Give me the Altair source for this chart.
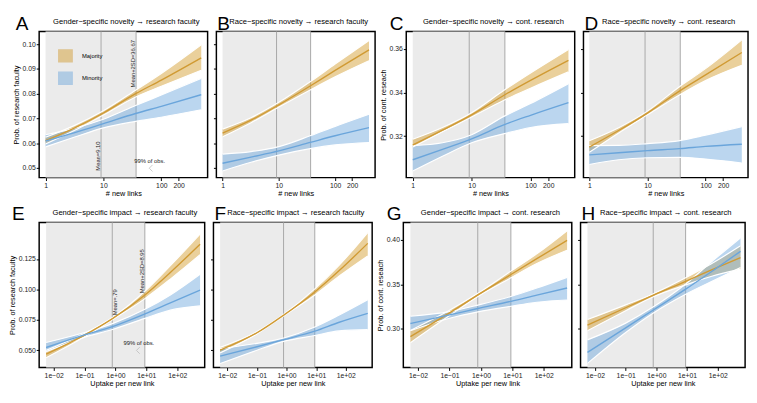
import altair as alt
import pandas as pd

FONT = "Liberation Sans"
GOLD = "#D39B2A"
BLUE = "#6FA8DC"
GOLD_LINE = "#D09A33"
BLUE_LINE = "#6AA5DB"
GROUPS = ["Majority", "Minority"]

# ---------------- Row 1: "# new links" ----------------
ROW1_MEAN, ROW1_SD2 = 9.10, 36.67
ROW1_TICKS = [1, 10, 100, 200]

A_x = [1, 3.2, 10, 36, 100, 490]
A_maj = [0.0610, 0.0662, 0.0722, 0.0800, 0.0855, 0.0945]
A_maj_lo = [0.0597, 0.0652, 0.0714, 0.0787, 0.0830, 0.0895]
A_maj_hi = [0.0624, 0.0672, 0.0731, 0.0814, 0.0882, 0.0998]
A_min = [0.0609, 0.0643, 0.0679, 0.0720, 0.0749, 0.0796]
A_min_lo = [0.0585, 0.0625, 0.0662, 0.0688, 0.0705, 0.0735]
A_min_hi = [0.0634, 0.0661, 0.0697, 0.0752, 0.0795, 0.0862]

B_x = [1, 3.2, 10, 36, 100, 400]
B_maj = [0.0641, 0.0693, 0.0755, 0.0831, 0.0894, 0.0977]
B_maj_lo = [0.0626, 0.0683, 0.0746, 0.0815, 0.0868, 0.0933]
B_maj_hi = [0.0657, 0.0703, 0.0765, 0.0848, 0.0920, 0.1015]
B_min = [0.0519, 0.0544, 0.0569, 0.0603, 0.0630, 0.0663]
B_min_lo = [0.0488, 0.0523, 0.0552, 0.0578, 0.0593, 0.0603]
B_min_hi = [0.0556, 0.0566, 0.0586, 0.0630, 0.0668, 0.0717]

C_x = [1, 3.2, 10, 36, 100, 440]
C_maj = [0.3160, 0.3228, 0.3298, 0.3389, 0.3456, 0.3548]
C_maj_lo = [0.3150, 0.3220, 0.3288, 0.3366, 0.3420, 0.3495]
C_maj_hi = [0.3186, 0.3240, 0.3308, 0.3412, 0.3490, 0.3598]
C_min = [0.3092, 0.3140, 0.3188, 0.3253, 0.3296, 0.3354]
C_min_lo = [0.3040, 0.3108, 0.3170, 0.3212, 0.3240, 0.3258]
C_min_hi = [0.3157, 0.3170, 0.3207, 0.3292, 0.3350, 0.3441]

D_x = [1, 3.2, 10, 36, 100, 420]
D_maj = [0.3150, 0.3226, 0.3306, 0.3408, 0.3481, 0.3584]
D_maj_lo = [0.3126, 0.3215, 0.3298, 0.3390, 0.3455, 0.3525]
D_maj_hi = [0.3179, 0.3239, 0.3315, 0.3428, 0.3510, 0.3642]
D_min = [0.3114, 0.3124, 0.3134, 0.3143, 0.3153, 0.3163]
D_min_lo = [0.3070, 0.3092, 0.3101, 0.3103, 0.3095, 0.3077]
D_min_hi = [0.3157, 0.3158, 0.3166, 0.3180, 0.3205, 0.3244]

# ---------------- Row 2: "Uptake per new link" ----------------
ROW2_MEAN, ROW2_SD2 = 0.79, 8.95
ROW2_TICKS = [0.01, 0.1, 1, 10, 100]
ROW2_X = [0.0057, 0.1, 0.8, 9, 60, 550]

E_maj = [0.0470, 0.0626, 0.0761, 0.0955, 0.1140, 0.1370]
E_maj_lo = [0.0440, 0.0612, 0.0752, 0.0925, 0.1085, 0.1285]
E_maj_hi = [0.0500, 0.0640, 0.0770, 0.0985, 0.1195, 0.1455]
E_min = [0.0524, 0.0627, 0.0696, 0.0800, 0.0890, 0.0995]
E_min_lo = [0.0490, 0.0607, 0.0672, 0.0763, 0.0830, 0.0865]
E_min_hi = [0.0565, 0.0647, 0.0720, 0.0837, 0.0955, 0.1125]

F_maj = [0.0503, 0.0645, 0.0790, 0.0980, 0.1155, 0.1378]
F_maj_lo = [0.0480, 0.0635, 0.0783, 0.0955, 0.1110, 0.1275]
F_maj_hi = [0.0525, 0.0655, 0.0797, 0.1005, 0.1200, 0.1467]
F_min = [0.0453, 0.0530, 0.0588, 0.0658, 0.0731, 0.0804]
F_min_lo = [0.0392, 0.0502, 0.0574, 0.0622, 0.0660, 0.0670]
F_min_hi = [0.0515, 0.0558, 0.0602, 0.0692, 0.0790, 0.0915]

G_maj = [0.2913, 0.3180, 0.3382, 0.3612, 0.3790, 0.3995]
G_maj_lo = [0.2845, 0.3150, 0.3365, 0.3575, 0.3735, 0.3885]
G_maj_hi = [0.2983, 0.3210, 0.3400, 0.3650, 0.3845, 0.4105]
G_min = [0.3061, 0.3158, 0.3230, 0.3310, 0.3380, 0.3460]
G_min_lo = [0.2980, 0.3120, 0.3192, 0.3255, 0.3300, 0.3325]
G_min_hi = [0.3142, 0.3195, 0.3268, 0.3365, 0.3460, 0.3580]

H_maj = [0.3043, 0.3238, 0.3379, 0.3535, 0.3661, 0.3803]
H_maj_lo = [0.2980, 0.3205, 0.3362, 0.3495, 0.3590, 0.3672]
H_maj_hi = [0.3105, 0.3270, 0.3396, 0.3575, 0.3730, 0.3935]
H_min = [0.2736, 0.3012, 0.3213, 0.3447, 0.3640, 0.3873]
H_min_lo = [0.2612, 0.2960, 0.3180, 0.3390, 0.3530, 0.3690]
H_min_hi = [0.2877, 0.3065, 0.3248, 0.3505, 0.3750, 0.4025]

# axis ranges
XDOM_A = [0.776, 631]
XDOM_B = [0.776, 513]
XDOM_C = [0.776, 562]
XDOM_D = [0.794, 537]
XDOM_ROW2 = [0.00339, 776]
YDOM_AB = [0.0461, 0.1051]
YDOM_CD = [0.301, 0.368]
YDOM_EF = [0.036, 0.155]
YDOM_GH = [0.2566, 0.4198]

# annotations (panels A and E)
A_notes_left = pd.DataFrame({"x": [9.10, 36.67], "y": [0.0552, 0.0925],
                             "t": ["Mean=9.10", "Mean+2SD=36.67"]})
A_notes_right = pd.DataFrame({"x": [], "y": [], "t": []})
A_obs = pd.DataFrame({"x": [63], "y": [0.0526], "t": ["99% of obs."]})
A_arrow = pd.DataFrame({"x": [66], "y": [0.0499]})

E_notes_left = pd.DataFrame({"x": [8.95], "y": [0.1157], "t": ["Mean+2SD=8.95"]})
E_notes_right = pd.DataFrame({"x": [0.79], "y": [0.0879], "t": ["Mean=.79"]})
E_obs = pd.DataFrame({"x": [5.7], "y": [0.0563], "t": ["99% of obs."]})
E_arrow = pd.DataFrame({"x": [5.4], "y": [0.0500]})

ROW2_LABEL_EXPR = ("'1e' + (datum.value < 1 ? '\u2212' : '+') + "
                   "pad(toString(round(abs(log(datum.value) / LN10))), 2, '0', 'left')")


def panel(letter, letter_dx, title, xs, maj, maj_lo, maj_hi, mn, mn_lo, mn_hi,
          xdom, ydom, yvals, yfmt, ytitle, xtitle, row, mean, sd2, w, h,
          legend=False, notes=None):
    n = len(xs)
    df = pd.DataFrame({
        "x": list(xs) * 2,
        "grp": ["Majority"] * n + ["Minority"] * n,
        "fit": list(maj) + list(mn),
        "lo": list(maj_lo) + list(mn_lo),
        "hi": list(maj_hi) + list(mn_hi),
    })
    df["grp2"] = df["grp"]
    xscale = alt.Scale(type="log", domain=xdom, nice=False)
    yscale = alt.Scale(domain=ydom, nice=False, zero=False)
    if row == 1:
        xaxis = alt.Axis(values=ROW1_TICKS, format="d", title=xtitle, labelFlush=False,
                         labelOverlap=False, grid=False)
    else:
        xaxis = alt.Axis(values=ROW2_TICKS, labelExpr=ROW2_LABEL_EXPR, title=xtitle,
                         labelFlush=False, labelOverlap=False, grid=False)
    if ytitle:
        yaxis = alt.Axis(values=yvals, format=yfmt, title=ytitle, grid=False)
    else:
        yaxis = alt.Axis(values=yvals, labels=False, title=None, grid=False)

    X = lambda f: alt.X(f, scale=xscale, axis=xaxis)
    Y = lambda f: alt.Y(f, scale=yscale, axis=yaxis)

    shade = alt.Chart(pd.DataFrame({"x0": [xs[0]], "x1": [sd2]})).mark_rect(
        color="#EBEBEB").encode(x=X("x0:Q"), x2="x1:Q", y=alt.value(0), y2=alt.value(h))
    rules = alt.Chart(pd.DataFrame({"v": [mean, sd2]})).mark_rule(
        color="#A8A8A8", strokeWidth=1).encode(x=X("v:Q"))

    fill_scale = alt.Scale(domain=GROUPS, range=[GOLD, BLUE])
    stroke_scale = alt.Scale(domain=GROUPS, range=[GOLD_LINE, BLUE_LINE])
    if legend:
        fill_leg = alt.Legend(title=None, orient="none", legendX=19, legendY=17,
                              symbolType="M-1,-0.9H1V0.9H-1Z", symbolSize=196,
                              symbolOpacity=0.47, symbolStrokeColor="white",
                              symbolStrokeWidth=1.2, labelFontSize=6, labelFont=FONT,
                              labelColor="black", labelOffset=9, rowPadding=5, padding=0)
        stroke_leg = alt.Legend(title=None, orient="none", legendX=19, legendY=17,
                                symbolType="stroke", symbolSize=196, symbolStrokeWidth=1.4,
                                labelFontSize=6, labelFont=FONT, labelColor="black",
                                labelOffset=9, rowPadding=5, padding=0)
    else:
        fill_leg = None
        stroke_leg = None

    base = alt.Chart(df)
    ribbons = base.mark_area(opacity=0.47, interpolate="monotone").encode(
        x=X("x:Q"), y=Y("hi:Q"), y2="lo:Q",
        fill=alt.Fill("grp:N", scale=fill_scale, legend=fill_leg))
    edge_hi = base.mark_line(color="white", strokeWidth=1.2, interpolate="monotone").encode(
        x=X("x:Q"), y=Y("hi:Q"), detail="grp:N")
    edge_lo = base.mark_line(color="white", strokeWidth=1.2, interpolate="monotone").encode(
        x=X("x:Q"), y=Y("lo:Q"), detail="grp:N")
    lines = base.mark_line(strokeWidth=1.4, interpolate="monotone").encode(
        x=X("x:Q"), y=Y("fit:Q"),
        stroke=alt.Stroke("grp2:N", scale=stroke_scale, legend=stroke_leg))

    layers = [shade, rules, ribbons, edge_hi, edge_lo, lines]

    if notes is not None:
        left, right, obs, arrow = notes
        if len(left):
            layers.append(alt.Chart(left).mark_text(
                angle=270, baseline="bottom", align="center", dx=-1, fontSize=6,
                font=FONT, color="#222222").encode(x=X("x:Q"), y=Y("y:Q"), text="t:N"))
        if len(right):
            layers.append(alt.Chart(right).mark_text(
                angle=270, baseline="top", align="center", dx=2, fontSize=6,
                font=FONT, color="#222222").encode(x=X("x:Q"), y=Y("y:Q"), text="t:N"))
        layers.append(alt.Chart(obs).mark_text(
            align="center", baseline="middle", fontSize=6, font=FONT,
            color="#222222").encode(x=X("x:Q"), y=Y("y:Q"), text="t:N"))
        layers.append(alt.Chart(arrow).mark_point(
            shape="M0.5,-1L-0.5,0L0.5,1", filled=False, size=45, color="#B5B5B5",
            strokeWidth=1).encode(x=X("x:Q"), y=Y("y:Q")))

    head = pd.DataFrame({"l": [letter], "t": [title]})
    letter_layer = alt.Chart(head).mark_text(
        align="left", baseline="alphabetic", fontSize=19.5, font=FONT, color="black"
    ).encode(x=alt.value(letter_dx), y=alt.value(-2), text="l:N")
    title_layer = alt.Chart(head).mark_text(
        align="center", baseline="alphabetic", fontSize=7.8, font=FONT, color="black"
    ).encode(x=alt.value(w / 2 + 3), y=alt.value(-8), text="t:N")
    layers += [letter_layer, title_layer]

    return alt.layer(*layers).properties(width=w, height=h)


T1 = "# new links"
T2 = "Uptake per new link"
YT_RF = "Prob. of research faculty"
YT_CR = "Prob. of cont. reseach"
H1, H2 = 150, 149

pA = panel("A", -24, "Gender\u2212specific novelty \u2192 research faculty", A_x,
           A_maj, A_maj_lo, A_maj_hi, A_min, A_min_lo, A_min_hi, XDOM_A, YDOM_AB,
           [0.05, 0.06, 0.07, 0.08, 0.09, 0.10], ".2f", YT_RF, T1, 1, ROW1_MEAN, ROW1_SD2,
           173, H1, legend=True, notes=(A_notes_left, A_notes_right, A_obs, A_arrow))
pB = panel("B", 1, "Race\u2212specific novelty \u2192 research faculty", B_x,
           B_maj, B_maj_lo, B_maj_hi, B_min, B_min_lo, B_min_hi, XDOM_B, YDOM_AB,
           [0.05, 0.06, 0.07, 0.08, 0.09, 0.10], ".2f", None, T1, 1, ROW1_MEAN, ROW1_SD2,
           163, H1)
pC = panel("C", -17, "Gender\u2212specific novelty \u2192 cont. research", C_x,
           C_maj, C_maj_lo, C_maj_hi, C_min, C_min_lo, C_min_hi, XDOM_C, YDOM_CD,
           [0.32, 0.34, 0.36], ".2f", YT_CR, T1, 1, ROW1_MEAN, ROW1_SD2, 173, H1)
pD = panel("D", 1, "Race\u2212specific novelty \u2192 cont. research", D_x,
           D_maj, D_maj_lo, D_maj_hi, D_min, D_min_lo, D_min_hi, XDOM_D, YDOM_CD,
           [0.32, 0.34, 0.36], ".2f", None, T1, 1, ROW1_MEAN, ROW1_SD2, 169, H1)

pE = panel("E", -28, "Gender\u2212specific impact \u2192 research faculty", ROW2_X,
           E_maj, E_maj_lo, E_maj_hi, E_min, E_min_lo, E_min_hi, XDOM_ROW2, YDOM_EF,
           [0.050, 0.075, 0.100, 0.125], ".3f", YT_RF, T2, 2, ROW2_MEAN, ROW2_SD2,
           170, H2, notes=(E_notes_left, E_notes_right, E_obs, E_arrow))
pF = panel("F", 1, "Race\u2212specific impact \u2192 research faculty", ROW2_X,
           F_maj, F_maj_lo, F_maj_hi, F_min, F_min_lo, F_min_hi, XDOM_ROW2, YDOM_EF,
           [0.050, 0.075, 0.100, 0.125], ".3f", None, T2, 2, ROW2_MEAN, ROW2_SD2, 163, H2)
pG = panel("G", -17, "Gender\u2212specific impact \u2192 cont. research", ROW2_X,
           G_maj, G_maj_lo, G_maj_hi, G_min, G_min_lo, G_min_hi, XDOM_ROW2, YDOM_GH,
           [0.30, 0.35, 0.40], ".2f", YT_CR, T2, 2, ROW2_MEAN, ROW2_SD2, 173, H2)
pH = panel("H", 1, "Race\u2212specific impact \u2192 cont. research", ROW2_X,
           H_maj, H_maj_lo, H_maj_hi, H_min, H_min_lo, H_min_hi, XDOM_ROW2, YDOM_GH,
           [0.30, 0.35, 0.40], ".2f", None, T2, 2, ROW2_MEAN, ROW2_SD2, 169, H2)

row1 = alt.hconcat(pA, pB, pC, pD, spacing=3).resolve_scale(fill="independent", stroke="independent")
row2 = alt.hconcat(pE, pF, pG, pH, spacing=3).resolve_scale(fill="independent", stroke="independent")

chart = alt.vconcat(row1, row2, spacing=6).resolve_scale(
    fill="independent", stroke="independent"
).properties(padding=0, background="white").configure_view(
    stroke="black", strokeWidth=1.5
).configure_axis(
    labelFont=FONT, titleFont=FONT, labelFontSize=7, titleFontSize=7.5,
    titleFontWeight="normal", tickSize=3, tickColor="black", tickWidth=1,
    labelColor="#222222", titleColor="black", domain=False, grid=False,
    labelPadding=1, titlePadding=1.5
)

chart.save("out.html", embed_options={"renderer": "svg", "actions": False})
